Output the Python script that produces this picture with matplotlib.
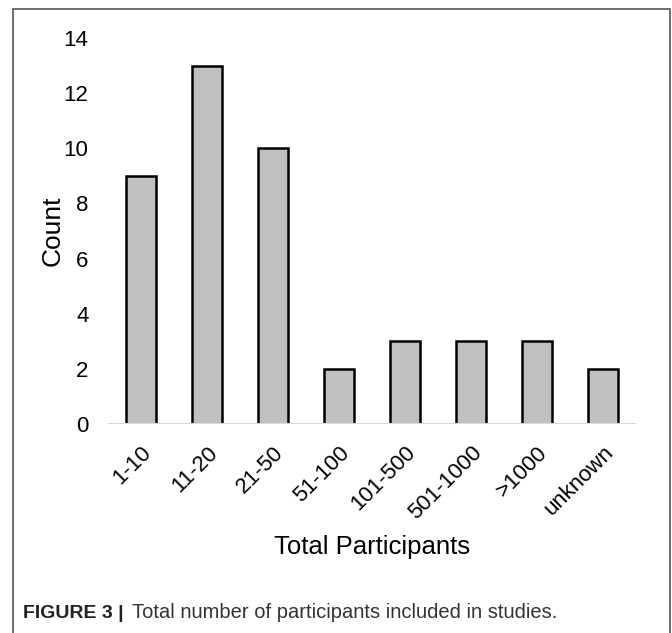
import matplotlib
matplotlib.use("Agg")
import matplotlib.pyplot as plt
from matplotlib.patches import Rectangle

plt.rcParams['font.family'] = ['Liberation Sans', 'DejaVu Sans']

categories = ["1-10", "11-20", "21-50", "51-100", "101-500", "501-1000", ">1000", "unknown"]
counts = [9, 13, 10, 2, 3, 3, 3, 2]
y_ticks = [0, 2, 4, 6, 8, 10, 12, 14]

fig = plt.figure(figsize=(6.72, 6.33), dpi=100)
ax = fig.add_axes([108 / 672, 1 - 424 / 633, 528 / 672, 386 / 633])

x = list(range(len(categories)))
ax.bar(x, counts, width=0.44, color="#c0c0c0", edgecolor="black", linewidth=1.8, zorder=2)
ax.axhline(0, color="#d9d9d9", linewidth=1.5, zorder=3)

ax.set_xlim(-0.5, len(categories) - 0.5)
ax.set_ylim(0, 14)
ax.set_yticks(y_ticks)
ax.set_yticklabels([str(v) for v in y_ticks], fontsize=16)
ax.set_xticks(x)
ax.set_xticklabels(categories, rotation=45, ha="right", rotation_mode="anchor", fontsize=16)
ax.tick_params(axis="both", length=0, colors="black")
ax.tick_params(axis="y", pad=14)
ax.tick_params(axis="x", pad=13)
for s in ax.spines.values():
    s.set_visible(False)

ax.set_ylabel("Count", fontsize=19)
ax.yaxis.set_label_coords(-0.104, 0.5)
ax.yaxis.label.set_va("center")
ax.set_xlabel("Total Participants", fontsize=18.5)
ax.xaxis.set_label_coords(0.5, -0.319)
ax.xaxis.label.set_va("center")

# panel border
fig.patches.append(Rectangle((13 / 672, -0.05), (670 - 13) / 672, 1.05 - 8.5 / 633,
                             transform=fig.transFigure, fill=False,
                             edgecolor="#555555", linewidth=1.2))

fig.text(23 / 672, 1 - 613 / 633, "FIGURE 3 |", fontsize=14, fontweight="bold",
         va="center", ha="left", color="#222222")
fig.text(132 / 672, 1 - 613 / 633, "Total number of participants included in studies.",
         fontsize=14.5, va="center", ha="left", color="#333333")

fig.savefig("out.png", dpi=100)
